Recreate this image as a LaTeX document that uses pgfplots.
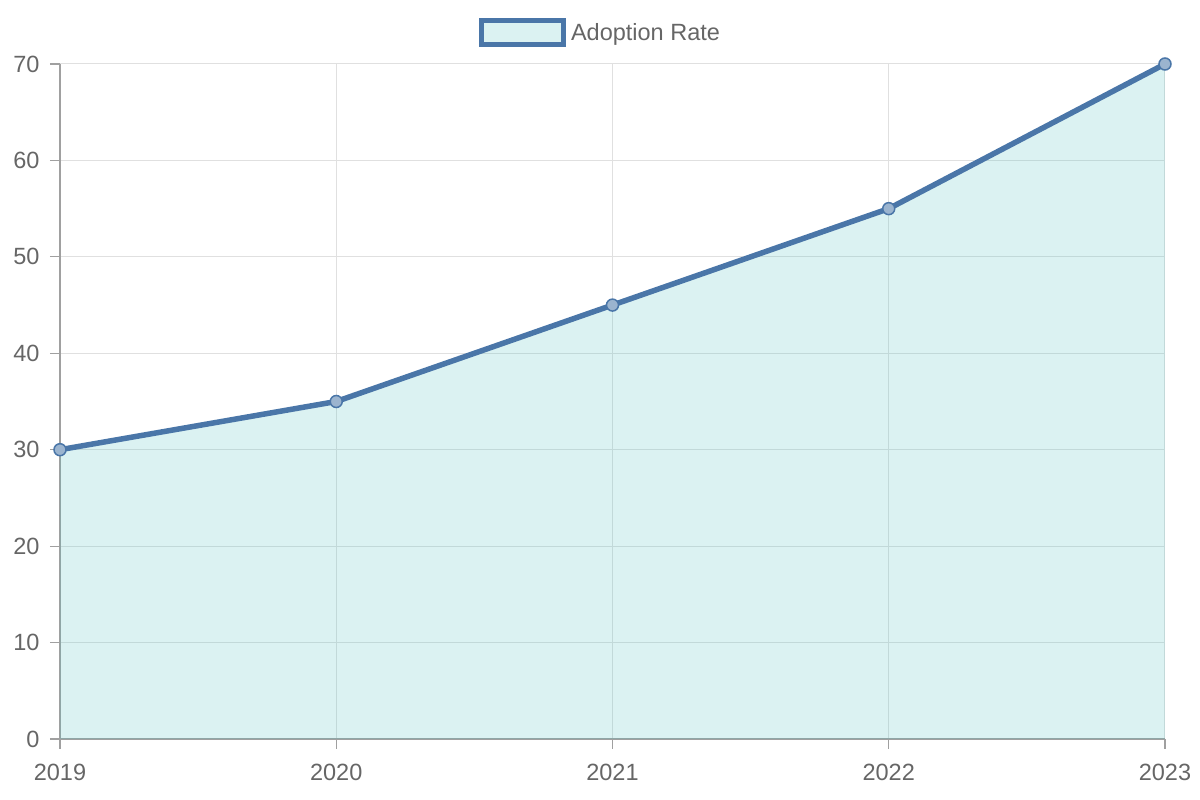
\documentclass[border=0pt]{standalone}
\usepackage{pgfplots}
\pgfplotsset{compat=1.18}
\usepackage{fontspec}
\setmainfont{Liberation Sans}
\definecolor{linec}{HTML}{4A76A8}
\definecolor{fillc}{RGB}{75,192,192}
\definecolor{legfill}{RGB}{219,242,242}
\definecolor{txt}{HTML}{666666}
\definecolor{gridc}{HTML}{E0E0E0}
\definecolor{axc}{HTML}{A0A0A0}
\begin{document}
\begin{tikzpicture}[x=1pt,y=1pt]
\useasboundingbox (0,0) rectangle (1200,800);
\begin{axis}[
  at={(60pt,61pt)}, anchor=south west,
  scale only axis, width=1105pt, height=675pt,
  xmin=0, xmax=4, ymin=0, ymax=70,
  xtick={0,1,2,3,4}, xticklabels={2019,2020,2021,2022,2023},
  ytick={0,10,...,70},
  axis lines=left, axis line style={-, draw=axc, line width=1.2pt},
  grid=major, major grid style={draw=gridc, line width=1pt},
  tick align=outside, major tick length=10pt,
  tick style={draw=axc, line width=1.2pt},
  ticklabel style={font=\fontsize{23.5}{26}\selectfont, text=txt},
  xticklabel style={yshift=-12pt},
  yticklabel style={xshift=-7pt},
  /pgf/number format/assume math mode=true,
  clip=false,
  legend style={at={(0.5,1)}, anchor=south, xshift=-12pt, yshift=17pt, draw=none, fill=none,
    font=\fontsize{23.5}{26}\selectfont, text=txt, inner sep=0pt},
  legend image code/.code={
    \draw[draw=linec, line width=5pt, fill=legfill, fill opacity=1] (0pt,-12pt) rectangle (82pt,12pt);
  },
  legend cell align=left,
]
\addplot[draw=none, fill=fillc, fill opacity=0.2, forget plot]
  coordinates {(0,30) (1,35) (2,45) (3,55) (4,70)} \closedcycle;
\addplot[draw=linec, line width=5.5pt,
  mark=*, mark size=6pt, mark options={draw=linec, line width=1.5pt, fill=linec!55}]
  coordinates {(0,30) (1,35) (2,45) (3,55) (4,70)};
\addlegendentry{\hspace{3pt}Adoption Rate}
\end{axis}
\end{tikzpicture}
\end{document}
